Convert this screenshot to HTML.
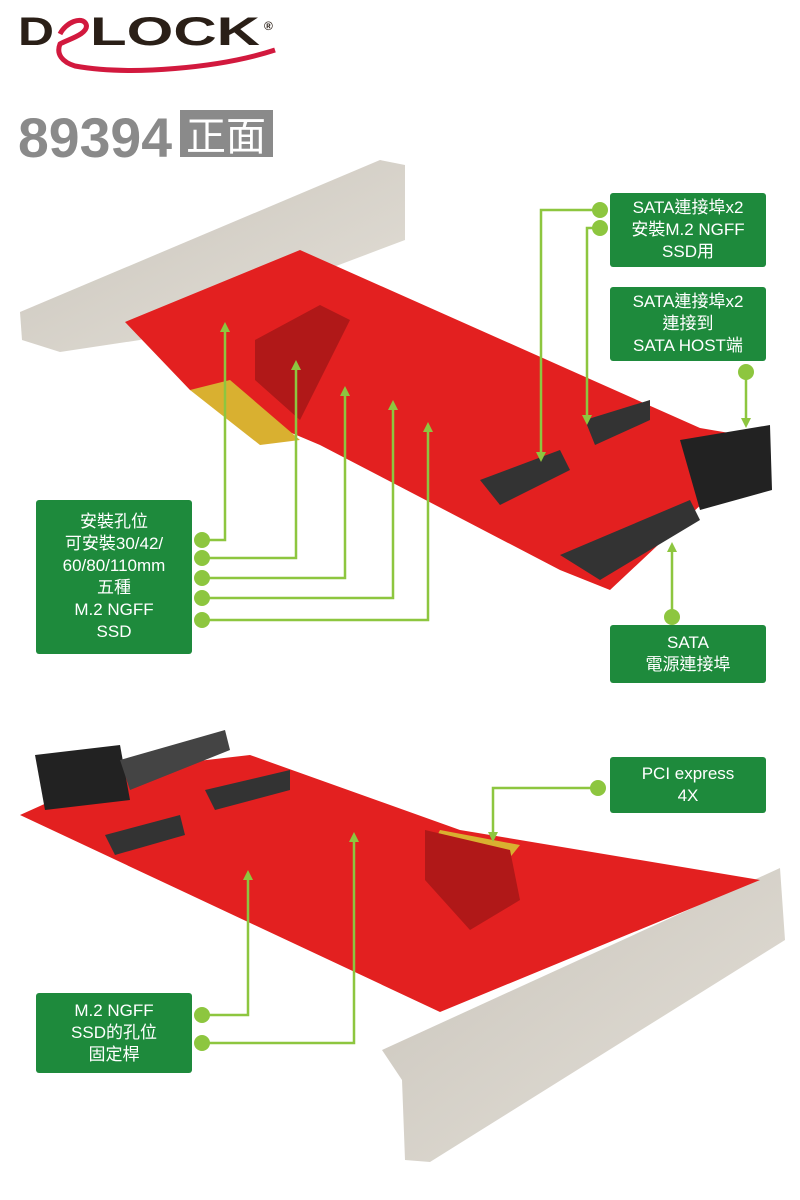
<!DOCTYPE html>
<html><head><meta charset="utf-8"><style>
body{margin:0;background:#fff;}
.w{position:relative;width:800px;height:1200px;overflow:hidden;font-family:"Liberation Sans","Noto Sans CJK TC",sans-serif;}
.b{position:absolute;background:#1e8a3c;color:#fff;text-align:center;font-size:17px;line-height:22px;border-radius:3px;display:flex;flex-direction:column;justify-content:center;}
</style></head><body><div class="w">
<svg width="800" height="1200" style="position:absolute;left:0;top:0">
<defs><linearGradient id="s" x1="0" y1="0" x2="1" y2="1"><stop offset="0" stop-color="#c9c4bb"/><stop offset="1" stop-color="#e4e0d8"/></linearGradient></defs>
<!-- logo -->
<text x="18" y="45" font-family="Liberation Sans" font-weight="bold" font-size="40" fill="#2a1f17" textLength="36" lengthAdjust="spacingAndGlyphs">D</text>
<text x="90" y="45" font-family="Liberation Sans" font-weight="bold" font-size="40" fill="#2a1f17" textLength="170" lengthAdjust="spacingAndGlyphs">LOCK</text>
<text x="264" y="30" font-size="12" font-weight="bold" fill="#2a1f17">®</text>
<path d="M60,34 C66,22 82,16 86,24 C90,34 66,40 60,44 C56,54 62,62 75,66 C130,76 220,68 275,50" stroke="#d2193e" stroke-width="5" fill="none"/>
<text x="18" y="157" font-family="Liberation Sans" font-weight="bold" font-size="56" fill="#8a8a8a" textLength="154" lengthAdjust="spacingAndGlyphs">89394</text>
<rect x="180" y="110" width="93" height="47" fill="#8a8a8a"/>
<text x="226" y="150" text-anchor="middle" font-size="40" fill="#fff" font-family="Noto Sans CJK TC">正面</text>
<!-- front bracket -->
<polygon points="20,312 380,160 405,165 405,240 140,340 60,352 22,340" fill="url(#s)"/>
<!-- front board -->
<polygon points="125,322 300,250 700,428 770,440 610,590 560,570 320,445 190,390" fill="#e32020"/>
<polygon points="190,390 230,380 300,440 260,445" fill="#d9b030"/>
<polygon points="255,340 320,305 350,320 300,420 255,380" fill="#b01818"/>
<polygon points="680,440 770,425 772,490 700,510" fill="#222"/>
<polygon points="560,555 690,500 700,520 600,580" fill="#333"/>
<polygon points="480,480 560,450 570,470 500,505" fill="#333"/>
<polygon points="585,420 650,400 650,420 595,445" fill="#333"/>
<!-- back bracket -->
<polygon points="382,1050 780,868 785,940 430,1162 405,1160 402,1080" fill="url(#s)"/>
<!-- back board -->
<polygon points="20,815 120,770 250,755 460,830 760,880 440,1012" fill="#e32020"/>
<polygon points="440,830 520,845 500,870 430,850" fill="#d9b030"/>
<polygon points="425,830 510,850 520,900 470,930 425,880" fill="#b01818"/>
<polygon points="35,755 120,745 130,800 45,810" fill="#222"/>
<polygon points="120,760 225,730 230,750 130,790" fill="#444"/>
<polygon points="205,790 290,770 290,790 215,810" fill="#333"/>
<polygon points="105,835 180,815 185,835 115,855" fill="#333"/>
<g stroke="#8dc63f" stroke-width="2.5" fill="none">
<polyline points="600,210 541,210 541,455"/>
<polyline points="600,228 587,228 587,418"/>
<polyline points="746,372 746,420"/>
<polyline points="202,540 225,540 225,332"/>
<polyline points="202,558 296,558 296,370"/>
<polyline points="202,578 345,578 345,396"/>
<polyline points="202,598 393,598 393,410"/>
<polyline points="202,620 428,620 428,432"/>
<polyline points="672,617 672,552"/>
<polyline points="598,788 493,788 493,835"/>
<polyline points="202,1015 248,1015 248,880"/>
<polyline points="202,1043 354,1043 354,842"/>
</g>
<g fill="#8dc63f">
<circle cx="600" cy="210" r="8"/><circle cx="600" cy="228" r="8"/><circle cx="746" cy="372" r="8"/>
<circle cx="202" cy="540" r="8"/><circle cx="202" cy="558" r="8"/><circle cx="202" cy="578" r="8"/><circle cx="202" cy="598" r="8"/><circle cx="202" cy="620" r="8"/>
<circle cx="672" cy="617" r="8"/><circle cx="598" cy="788" r="8"/><circle cx="202" cy="1015" r="8"/><circle cx="202" cy="1043" r="8"/>
<polygon points="536,452 546,452 541,462"/><polygon points="582,415 592,415 587,425"/><polygon points="741,418 751,418 746,428"/>
<polygon points="220,332 230,332 225,322"/><polygon points="291,370 301,370 296,360"/><polygon points="340,396 350,396 345,386"/><polygon points="388,410 398,410 393,400"/><polygon points="423,432 433,432 428,422"/>
<polygon points="667,552 677,552 672,542"/><polygon points="488,832 498,832 493,842"/><polygon points="243,880 253,880 248,870"/><polygon points="349,842 359,842 354,832"/>
</g>
</svg>
<div class="b" style="left:610px;top:193px;width:156px;height:74px">SATA連接埠x2<br>安裝M.2 NGFF<br>SSD用</div>
<div class="b" style="left:610px;top:287px;width:156px;height:74px">SATA連接埠x2<br>連接到<br>SATA HOST端</div>
<div class="b" style="left:36px;top:500px;width:156px;height:154px">安裝孔位<br>可安裝30/42/<br>60/80/110mm<br>五種<br>M.2 NGFF<br>SSD</div>
<div class="b" style="left:610px;top:625px;width:156px;height:58px">SATA<br>電源連接埠</div>
<div class="b" style="left:610px;top:757px;width:156px;height:56px">PCI express<br>4X</div>
<div class="b" style="left:36px;top:993px;width:156px;height:80px">M.2 NGFF<br>SSD的孔位<br>固定桿</div>
</div></body></html>
